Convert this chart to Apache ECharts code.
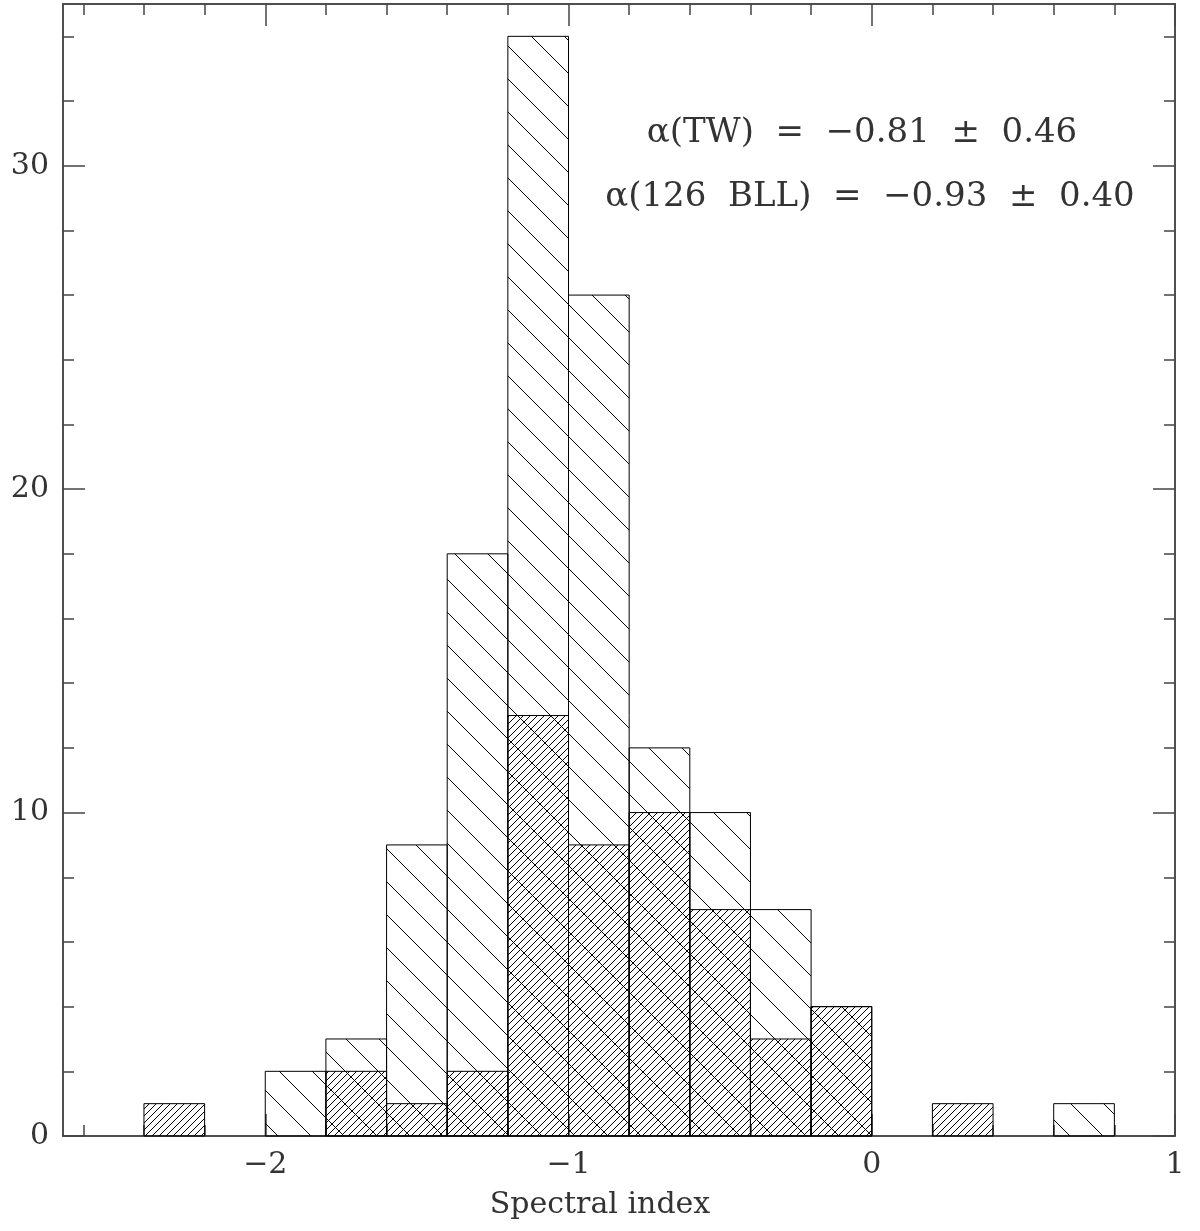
<!DOCTYPE html>
<html>
<head>
<meta charset="utf-8">
<script src="https://cdn.jsdelivr.net/npm/echarts@6/dist/echarts.min.js"></script>
<style>html,body{margin:0;padding:0;background:#fff}#main{width:1200px;height:1231px}</style>
</head>
<body>
<div id="main"></div>
<script>
// bin left edges, width 0.2
var binStarts = [-2.4, -2.2, -2.0, -1.8, -1.6, -1.4, -1.2, -1.0, -0.8, -0.6, -0.4, -0.2, 0.0, 0.2, 0.4, 0.6];
var bllCounts = [0, 0, 2, 3, 9, 18, 34, 26, 12, 10, 7, 4, 0, 0, 0, 1];
var twCounts  = [1, 0, 0, 2, 1, 2, 13, 9, 10, 7, 3, 4, 0, 1, 0, 0];
var binWidth = 0.2;
var xMajor = [-2, -1, 0, 1];
var xMinor = [-2.6, -2.4, -2.2, -2.0, -1.8, -1.6, -1.4, -1.2, -1.0, -0.8, -0.6, -0.4, -0.2, 0, 0.2, 0.4, 0.6, 0.8, 1.0];
var yMajor = [0, 10, 20, 30];
var yMinor = [0, 2, 4, 6, 8, 10, 12, 14, 16, 18, 20, 22, 24, 26, 28, 30, 32, 34];

function hatch(size, dir) {
    var c = document.createElement('canvas');
    c.width = size; c.height = size;
    var g = c.getContext('2d');
    g.strokeStyle = '#000';
    g.lineWidth = 1;
    for (var k = -1; k <= 1; k++) {
        g.beginPath();
        if (dir === 'back') { g.moveTo(k * size, 0); g.lineTo(k * size + size, size); }
        else { g.moveTo(k * size + size, 0); g.lineTo(k * size, size); }
        g.stroke();
    }
    return {image: c, repeat: 'repeat'};
}
var sparse = hatch(33, 'back');
var dense = hatch(7, 'fwd');

function toData(counts) {
    var d = [];
    for (var i = 0; i < binStarts.length; i++) {
        if (counts[i] > 0) d.push([binStarts[i], binStarts[i] + binWidth, counts[i]]);
    }
    return d;
}

function renderer(pattern) {
    return function (params, api) {
        var p0 = api.coord([api.value(0), api.value(2)]);
        var p1 = api.coord([api.value(1), 0]);
        return {
            type: 'rect',
            shape: {x: p0[0], y: p0[1], width: p1[0] - p0[0], height: p1[1] - p0[1]},
            style: {fill: pattern, stroke: '#000', lineWidth: 1}
        };
    };
}

var font = 'DejaVu Serif';
var lineCol = '#444';
function xAx(pos, vals, len, labels) {
    return {
        type: 'value', min: -2.667, max: 1.0, position: pos, gridIndex: 0,
        axisLine: {show: true, onZero: false, lineStyle: {color: lineCol, width: 1.5}},
        axisTick: {show: true, inside: true, length: len, customValues: vals, lineStyle: {color: lineCol, width: 1.5}},
        axisLabel: {show: labels, customValues: xMajor, color: '#333', fontFamily: font, fontSize: 30, margin: 14,
            formatter: function (v) { return String(v).replace('-', '\u2212'); }},
        splitLine: {show: false}
    };
}
function yAx(pos, vals, len, labels) {
    return {
        type: 'value', min: 0, max: 35, position: pos, gridIndex: 0,
        axisLine: {show: true, onZero: false, lineStyle: {color: lineCol, width: 1.5}},
        axisTick: {show: true, inside: true, length: len, customValues: vals, lineStyle: {color: lineCol, width: 1.5}},
        axisLabel: {show: labels, customValues: yMajor, color: '#333', fontFamily: font, fontSize: 30, margin: 14},
        splitLine: {show: false}
    };
}

var chart = echarts.init(document.getElementById('main'));
chart.setOption({
    animation: false,
    backgroundColor: '#fff',
    grid: {left: 63, right: 25, top: 4, bottom: 95},
    xAxis: [xAx('bottom', xMajor, 22, true), xAx('bottom', xMinor, 11, false),
            xAx('top', xMajor, 22, false), xAx('top', xMinor, 11, false)],
    yAxis: [yAx('left', yMajor, 22, true), yAx('left', yMinor, 11, false),
            yAx('right', yMajor, 22, false), yAx('right', yMinor, 11, false)],
    graphic: [
        {type: 'text', left: 'center', top: 1190, style: {text: 'Spectral index', font: '30px "DejaVu Serif"', fill: '#333'}},
        {type: 'text', x: 862, y: 133, style: {text: '\u03b1(TW)  =  \u22120.81  \u00b1  0.46', font: '34px "DejaVu Serif"', fill: '#333', align: 'center', verticalAlign: 'middle'}},
        {type: 'text', x: 870, y: 197, style: {text: '\u03b1(126  BLL)  =  \u22120.93  \u00b1  0.40', font: '34px "DejaVu Serif"', fill: '#333', align: 'center', verticalAlign: 'middle'}}
    ],
    series: [
        {type: 'custom', name: '126 BLL', xAxisIndex: 0, yAxisIndex: 0, renderItem: renderer(sparse), data: toData(bllCounts), encode: {x: [0, 1], y: 2}},
        {type: 'custom', name: 'TW', xAxisIndex: 0, yAxisIndex: 0, renderItem: renderer(dense), data: toData(twCounts), encode: {x: [0, 1], y: 2}}
    ]
});
</script>
</body>
</html>
